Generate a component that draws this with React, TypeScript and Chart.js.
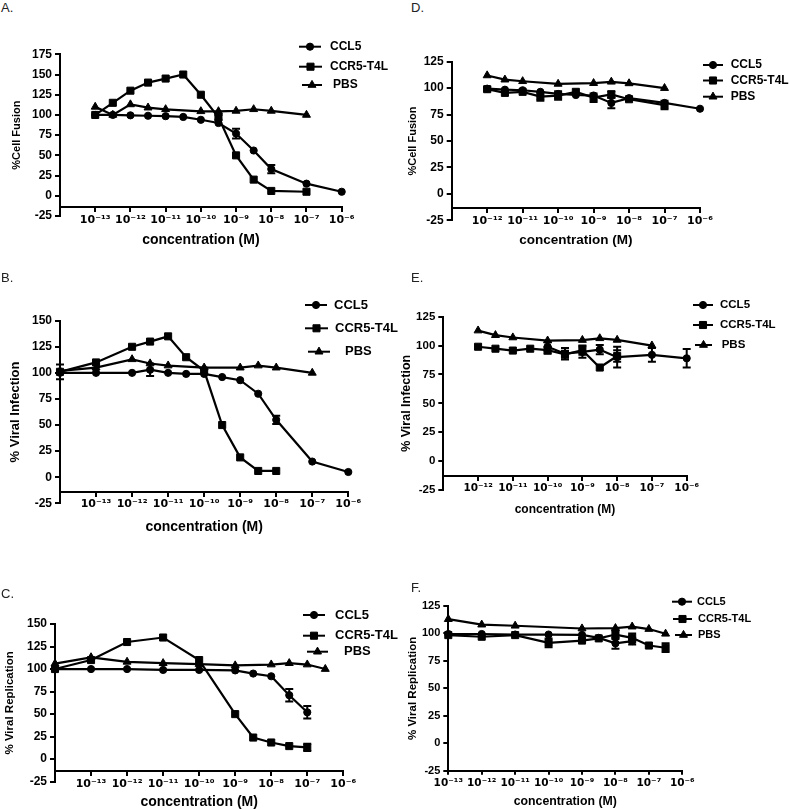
import React, { useEffect, useRef } from 'react';
import { Chart, registerables } from 'chart.js';
import { drawPoint } from 'chart.js/helpers';

Chart.register(...registerables);

// ---------- DATA: [log10 concentration (M), mean %, SEM] ----------
// A. Cell fusion (CCR5-T4L expressing cells)
const A_CCL5 = [[-13, 100, 0], [-12.5, 100, 0], [-12, 99.5, 0], [-11.5, 99, 0], [-11, 98.5, 0], [-10.5, 97.5, 0], [-10, 94, 0], [-9.5, 90, 0], [-9, 77, 6], [-8.5, 56, 0], [-8, 33, 5], [-7, 15, 0], [-6, 5, 0]];
const A_CCR5 = [[-13, 100, 0], [-12.5, 115, 0], [-12, 130, 0], [-11.5, 140, 0], [-11, 145, 0], [-10.5, 150, 0], [-10, 125, 0], [-9.5, 97, 3], [-9, 50, 0], [-8.5, 20, 0], [-8, 6, 0], [-7, 5, 0]];
const A_PBS = [[-13, 110, 0], [-12.5, 100, 0], [-12, 113, 0], [-11.5, 109, 0], [-11, 107, 0], [-10, 104.5, 0], [-9.5, 104.5, 0], [-9, 105, 0], [-8.5, 107, 0], [-8, 105, 0], [-7, 100, 0]];

// B. Viral infection
const B_CCL5 = [[-14, 100, 0], [-13, 100, 0], [-12, 100, 0], [-11.5, 103, 6], [-11, 100, 0], [-10.5, 99, 0], [-10, 99, 0], [-9.5, 96, 0], [-9, 93, 0], [-8.5, 80, 0], [-8, 55, 4], [-7, 15, 0], [-6, 5, 0]];
const B_CCR5 = [[-14, 101, 7], [-13, 110, 0], [-12, 125, 0], [-11.5, 130, 0], [-11, 135, 0], [-10.5, 115, 0], [-10, 102, 0], [-9.5, 50, 0], [-9, 19, 0], [-8.5, 6, 0], [-8, 6, 0]];
const B_PBS = [[-14, 102, 0], [-13, 105, 0], [-12, 113, 0], [-11.5, 109, 0], [-11, 107, 0], [-10, 105, 0], [-9, 105, 0], [-8.5, 107, 0], [-8, 105, 0], [-7, 100, 0]];

// C. Viral replication
const C_CCL5 = [[-14, 100, 0], [-13, 100, 0], [-12, 100, 0], [-11, 99, 0], [-10, 99, 0], [-9, 98.5, 0], [-8.5, 95, 0], [-8, 92, 0], [-7.5, 71, 7], [-7, 52, 7]];
const C_CCR5 = [[-14, 100, 0], [-13, 110, 0], [-12, 130, 0], [-11, 135, 0], [-10, 110, 0], [-9, 50, 0], [-8.5, 24, 0], [-8, 18.5, 0], [-7.5, 14.5, 0], [-7, 13, 4]];
const C_PBS = [[-14, 106, 0], [-13, 113, 0], [-12, 108, 0], [-11, 106.5, 0], [-10, 105.5, 0], [-9, 104, 0], [-8, 105, 0], [-7.5, 106.5, 0], [-7, 105, 0], [-6.5, 100, 0]];

// D. Cell fusion (control)
const D_CCL5 = [[-12, 99.5, 0], [-11.5, 98.5, 0], [-11, 98, 0], [-10.5, 96.5, 0], [-10, 94.5, 0], [-9.5, 93.5, 0], [-9, 93, 0], [-8.5, 86, 5], [-8, 90.5, 0], [-7, 86, 0], [-6, 80.5, 0]];
const D_CCR5 = [[-12, 99, 2], [-11.5, 95.5, 0], [-11, 96.5, 0], [-10.5, 92, 4], [-10, 93, 4], [-9.5, 96.5, 0], [-9, 91, 4], [-8.5, 94, 3], [-8, 89.5, 0], [-7, 84, 4]];
const D_PBS = [[-12, 112, 0], [-11.5, 108, 0], [-11, 106.5, 0], [-10, 104, 0], [-9, 104.7, 0], [-8.5, 106, 0], [-8, 104.5, 0], [-7, 100, 0]];

// E. Viral infection (control)
const E_CCL5 = [[-10, 99, 4], [-9.5, 93, 5], [-9, 94.5, 5], [-8.5, 96.5, 4], [-8, 90, 9], [-7, 92, 6], [-6, 89, 8]];
const E_CCR5 = [[-12, 99, 0], [-11.5, 97.3, 0], [-11, 95.7, 0], [-10.5, 97.3, 0], [-10, 96, 3], [-9.5, 92.5, 3], [-9, 96, 4], [-8.5, 81, 0], [-8, 91, 5]];
const E_PBS = [[-12, 113, 0], [-11.5, 109, 0], [-11, 107, 0], [-10, 104.3, 0], [-9, 104.8, 0], [-8.5, 106.3, 0], [-8, 104.9, 0], [-7, 100, 0]];

// F. Viral replication (control)
const F_CCL5 = [[-13, 99.5, 0], [-12, 99.5, 0], [-11, 99, 0], [-10, 99, 0], [-9, 98.7, 0], [-8.5, 96, 0], [-8, 91, 5], [-7.5, 93, 3]];
const F_CCR5 = [[-13, 98.5, 0], [-12, 97, 0], [-11, 98.5, 0], [-10, 91.5, 4], [-9, 93.5, 0], [-8.5, 95.5, 0], [-8, 99, 4], [-7.5, 96, 4], [-7, 89, 0], [-6.5, 87, 4]];
const F_PBS = [[-13, 113, 0], [-12, 108, 0], [-11, 107, 0], [-9, 104.5, 0], [-8, 104.8, 0], [-7.5, 106.2, 0], [-7, 104, 0], [-6.5, 99.7, 0]];

// ---------- labels / ticks ----------
const SERIES_NAMES = ['CCL5', 'CCR5-T4L', 'PBS'];
const X_TICKS_ABC = [-13, -12, -11, -10, -9, -8, -7, -6];
const X_TICKS_DE = [-12, -11, -10, -9, -8, -7, -6];
const X_TICKS_F = [-13, -12, -11, -10, -9, -8, -7, -6];
const X_TITLE = 'concentration (M)';
const Y_TITLE_FUSION = '%Cell Fusion';
const Y_TITLE_INFECTION = '% Viral Infection';
const Y_TITLE_REPLICATION = '% Viral Replication';

// ---------- styles ----------
const FONT = "'Liberation Sans', Arial, Helvetica, sans-serif";
const TICK_FONT = "'DejaVu Sans', 'Liberation Sans', Arial, sans-serif";
const POINT_STYLES = ['circle', 'rect', 'triangle'];
const POINT_RADII = [3.6, 5, 4.6];

const SUP: Record<string, string> = { '-': '\u207B', '0': '\u2070', '1': '\u00B9', '2': '\u00B2', '3': '\u00B3', '4': '\u2074', '5': '\u2075', '6': '\u2076', '7': '\u2077', '8': '\u2078', '9': '\u2079' };
const powLabel = (v: number) => '10' + String(v).split('').map((c) => SUP[c] ?? c).join('');

const PANELS = [
  {
    letter: 'A.', letterPos: [1, 0],
    canvas: { x: 0, y: 20, w: 400, h: 245 }, area: { l: 60, t: 54.3, r: 341.7, b: 216 },
    yMin: -25, yMax: 175, xMin: -14, xMax: -6, xAxisAt: -14.3, xTicks: X_TICKS_ABC,
    xTitleY: 240, xTitleSize: 14, yTitle: Y_TITLE_FUSION, yTitleX: 17, yTitleSize: 11, yTickSize: 12, xTickSize: 11,
    legend: { rows: [46.7, 66.7, 85], x1: [299, 299, 302], x2: [321, 322, 322], tx: [330, 330, 333], size: 12 },
    series: [A_CCL5, A_CCR5, A_PBS],
  },
  {
    letter: 'B.', letterPos: [1, 270],
    canvas: { x: 0, y: 265, w: 400, h: 280 }, area: { l: 60, t: 320.7, r: 348.3, b: 503.3 },
    yMin: -25, yMax: 150, xMin: -14, xMax: -6, xAxisAt: -13.9, xTicks: X_TICKS_ABC,
    xTitleY: 526.7, xTitleSize: 14, yTitle: Y_TITLE_INFECTION, yTitleX: 15, yTitleSize: 13, yTickSize: 12, xTickSize: 11,
    legend: { rows: [305, 328.3, 351.7], x1: [305, 305, 308], x2: [327, 328, 330], tx: [334, 335, 345], size: 13 },
    series: [B_CCL5, B_CCR5, B_PBS],
  },
  {
    letter: 'C.', letterPos: [1, 586],
    canvas: { x: 0, y: 545, w: 400, h: 265 }, area: { l: 55, t: 624, r: 343.3, b: 781.7 },
    yMin: -25, yMax: 150, xMin: -14, xMax: -6, xAxisAt: -13.2, xTicks: X_TICKS_ABC,
    xTitleY: 801.7, xTitleSize: 14, yTitle: Y_TITLE_REPLICATION, yTitleX: 10, yTitleSize: 11.5, yTickSize: 12, xTickSize: 11,
    legend: { rows: [615, 635.7, 651.7], x1: [303, 303, 307], x2: [325, 325, 328], tx: [335, 335, 344], size: 13 },
    series: [C_CCL5, C_CCR5, C_PBS],
  },
  {
    letter: 'D.', letterPos: [411, 0],
    canvas: { x: 400, y: 20, w: 389, h: 245 }, area: { l: 451.7, t: 61.7, r: 700, b: 220.3 },
    yMin: -25, yMax: 125, xMin: -13, xMax: -6, xAxisAt: -13.7, xTicks: X_TICKS_DE,
    xTitleY: 240, xTitleSize: 13.5, yTitle: Y_TITLE_FUSION, yTitleX: 413.3, yTitleSize: 11, yTickSize: 12, xTickSize: 11,
    legend: { rows: [65, 80.5, 96.7], x1: [703, 703, 703], x2: [723, 723, 723], tx: [730.7, 730.7, 730.7], size: 12 },
    series: [D_CCL5, D_CCR5, D_PBS],
  },
  {
    letter: 'E.', letterPos: [411, 270],
    canvas: { x: 400, y: 265, w: 389, h: 275 }, area: { l: 443.3, t: 316.7, r: 686.7, b: 490 },
    yMin: -25, yMax: 125, xMin: -13, xMax: -6, xAxisAt: -12.9, xTicks: X_TICKS_DE,
    xTitleY: 510, xTitleSize: 12, yTitle: Y_TITLE_INFECTION, yTitleX: 406.7, yTitleSize: 12.5, yTickSize: 11.5, xTickSize: 10.5,
    legend: { rows: [305, 325, 345], x1: [693, 693, 695], x2: [713, 713, 712], tx: [720, 720, 721.7], size: 11.5 },
    series: [E_CCL5, E_CCR5, E_PBS],
  },
  {
    letter: 'F.', letterPos: [411, 580],
    canvas: { x: 400, y: 560, w: 389, h: 250 }, area: { l: 448.3, t: 606, r: 682.3, b: 770.7 },
    yMin: -25, yMax: 125, xMin: -13, xMax: -6, xAxisAt: null, xTicks: X_TICKS_F,
    xTitleY: 801.7, xTitleSize: 12.3, yTitle: Y_TITLE_REPLICATION, yTitleX: 412.7, yTitleSize: 11.5, yTickSize: 11, xTickSize: 10.5,
    legend: { rows: [601.7, 619, 635], x1: [672, 673, 675], x2: [692, 692, 692], tx: [697, 698, 698], size: 11 },
    series: [F_CCL5, F_CCR5, F_PBS],
  },
];

const errorBarPlugin = {
  id: 'errorBars',
  afterDatasetsDraw(chart: any) {
    const { ctx } = chart;
    const yS = chart.scales.y;
    ctx.save();
    ctx.strokeStyle = '#000';
    ctx.lineWidth = 2;
    chart.data.datasets.forEach((ds: any, i: number) => {
      const meta = chart.getDatasetMeta(i);
      (ds.sem || []).forEach((s: number, j: number) => {
        if (!s) return;
        const pt = meta.data[j];
        const v = ds.data[j].y;
        const yt = yS.getPixelForValue(v + s);
        const yb = yS.getPixelForValue(v - s);
        const x = pt.x;
        const hw = 4;
        ctx.beginPath();
        ctx.moveTo(x, yt); ctx.lineTo(x, yb);
        ctx.moveTo(x - hw, yt); ctx.lineTo(x + hw, yt);
        ctx.moveTo(x - hw, yb); ctx.lineTo(x + hw, yb);
        ctx.stroke();
      });
    });
    ctx.restore();
  },
};

function legendPlugin(p: any) {
  return {
    id: 'panelLegend',
    afterDraw(chart: any) {
      const ctx = chart.ctx;
      const L = p.legend;
      ctx.save();
      ctx.fillStyle = '#000';
      ctx.strokeStyle = '#000';
      ctx.font = `bold ${L.size}px ${FONT}`;
      ctx.textBaseline = 'middle';
      ctx.textAlign = 'left';
      SERIES_NAMES.forEach((name, i) => {
        const y = L.rows[i] - p.canvas.y;
        const x1 = L.x1[i] - p.canvas.x;
        const x2 = L.x2[i] - p.canvas.x;
        ctx.lineWidth = 2;
        ctx.beginPath(); ctx.moveTo(x1, y); ctx.lineTo(x2, y); ctx.stroke();
        ctx.lineWidth = 1;
        drawPoint(ctx, { pointStyle: POINT_STYLES[i], radius: POINT_RADII[i], rotation: 0, borderWidth: 1 } as any, (x1 + x2) / 2, y);
        ctx.fillText(name, L.tx[i] - p.canvas.x, y);
      });
      ctx.restore();
    },
  };
}

function buildConfig(p: any): any {
  const c = p.canvas;
  const a = p.area;
  const yW = a.l - c.x;
  const padTop = a.t - c.y;
  const padRight = c.x + c.w - a.r;
  const xLH = p.xTitleSize * 1.2;
  const yLH = p.yTitleSize * 1.2;
  const pxPerUnit = (a.b - a.t) / (p.yMax - p.yMin);
  const axisY = p.xAxisAt == null ? a.b : a.t + (p.yMax - p.xAxisAt) * pxPerUnit;
  const xFitH = p.xTitleY - axisY + xLH / 2;
  const padBottom = p.xAxisAt == null ? c.y + c.h - a.b - xFitH : c.y + c.h - a.b;
  const yTitlePad = p.yTitleX - c.x - yLH / 2;

  const datasets = p.series.map((s: number[][], i: number) => ({
    label: SERIES_NAMES[i],
    data: s.map((r) => ({ x: r[0], y: r[1] })),
    sem: s.map((r) => r[2] || 0),
    borderColor: '#000',
    backgroundColor: '#000',
    borderWidth: 2.2,
    tension: 0,
    pointStyle: POINT_STYLES[i],
    pointRadius: POINT_RADII[i],
    pointHoverRadius: POINT_RADII[i],
    pointBorderWidth: 1,
    pointBackgroundColor: '#000',
    pointBorderColor: '#000',
    clip: false,
  }));

  const axisGrid = { display: true, drawOnChartArea: false, drawTicks: true, tickLength: 4, color: '#000', lineWidth: 2 };
  const axisBorder = { display: true, color: '#000', width: 2 };

  return {
    type: 'line',
    data: { datasets },
    options: {
      responsive: false,
      maintainAspectRatio: false,
      animation: false,
      devicePixelRatio: 1,
      events: [],
      layout: { padding: { left: 0, top: padTop, right: padRight, bottom: padBottom } },
      plugins: { legend: { display: false }, tooltip: { enabled: false }, title: { display: false } },
      scales: {
        x: {
          type: 'linear',
          min: p.xMin,
          max: p.xMax,
          position: p.xAxisAt == null ? 'bottom' : { y: p.xAxisAt },
          afterFit: (s: any) => { s.height = xFitH; },
          afterBuildTicks: (s: any) => { s.ticks = p.xTicks.map((v: number) => ({ value: v })); },
          ticks: {
            callback: (v: any) => powLabel(Number(v)),
            font: { family: TICK_FONT, size: p.xTickSize, weight: 'bold' },
            color: '#000',
            padding: 2,
            maxRotation: 0,
            autoSkip: false,
          },
          grid: axisGrid,
          border: axisBorder,
          title: { display: true, text: X_TITLE, color: '#000', font: { family: FONT, size: p.xTitleSize, weight: 'bold' }, padding: 0 },
        },
        y: {
          type: 'linear',
          position: 'left',
          min: p.yMin,
          max: p.yMax,
          afterFit: (s: any) => { s.width = yW; },
          ticks: { stepSize: 25, font: { family: FONT, size: p.yTickSize, weight: 'bold' }, color: '#000', padding: 3 },
          grid: { ...axisGrid, tickLength: 5 },
          border: axisBorder,
          title: { display: true, text: p.yTitle, color: '#000', font: { family: FONT, size: p.yTitleSize, weight: 'bold' }, padding: { top: yTitlePad, bottom: 0 } },
        },
      },
    },
    plugins: [errorBarPlugin, legendPlugin(p)],
  };
}

function Panel({ p }: { p: any }) {
  const ref = useRef<HTMLCanvasElement>(null);
  useEffect(() => {
    const chart = new Chart(ref.current as HTMLCanvasElement, buildConfig(p));
    return () => chart.destroy();
  }, [p]);
  const c = p.canvas;
  return (
    <canvas
      ref={ref}
      width={c.w}
      height={c.h}
      style={{ position: 'absolute', left: c.x, top: c.y, width: c.w, height: c.h, display: 'block' }}
    />
  );
}

export default function App() {
  return (
    <div style={{ position: 'absolute', left: 0, top: 0, width: 789, height: 810, background: '#fff', overflow: 'hidden' }}>
      {PANELS.map((p) => (
        <Panel key={p.letter} p={p} />
      ))}
      {PANELS.map((p) => (
        <div
          key={'l' + p.letter}
          style={{ position: 'absolute', left: p.letterPos[0], top: p.letterPos[1], fontFamily: FONT, fontSize: 13, lineHeight: '15px', color: '#222' }}
        >
          {p.letter}
        </div>
      ))}
    </div>
  );
}
